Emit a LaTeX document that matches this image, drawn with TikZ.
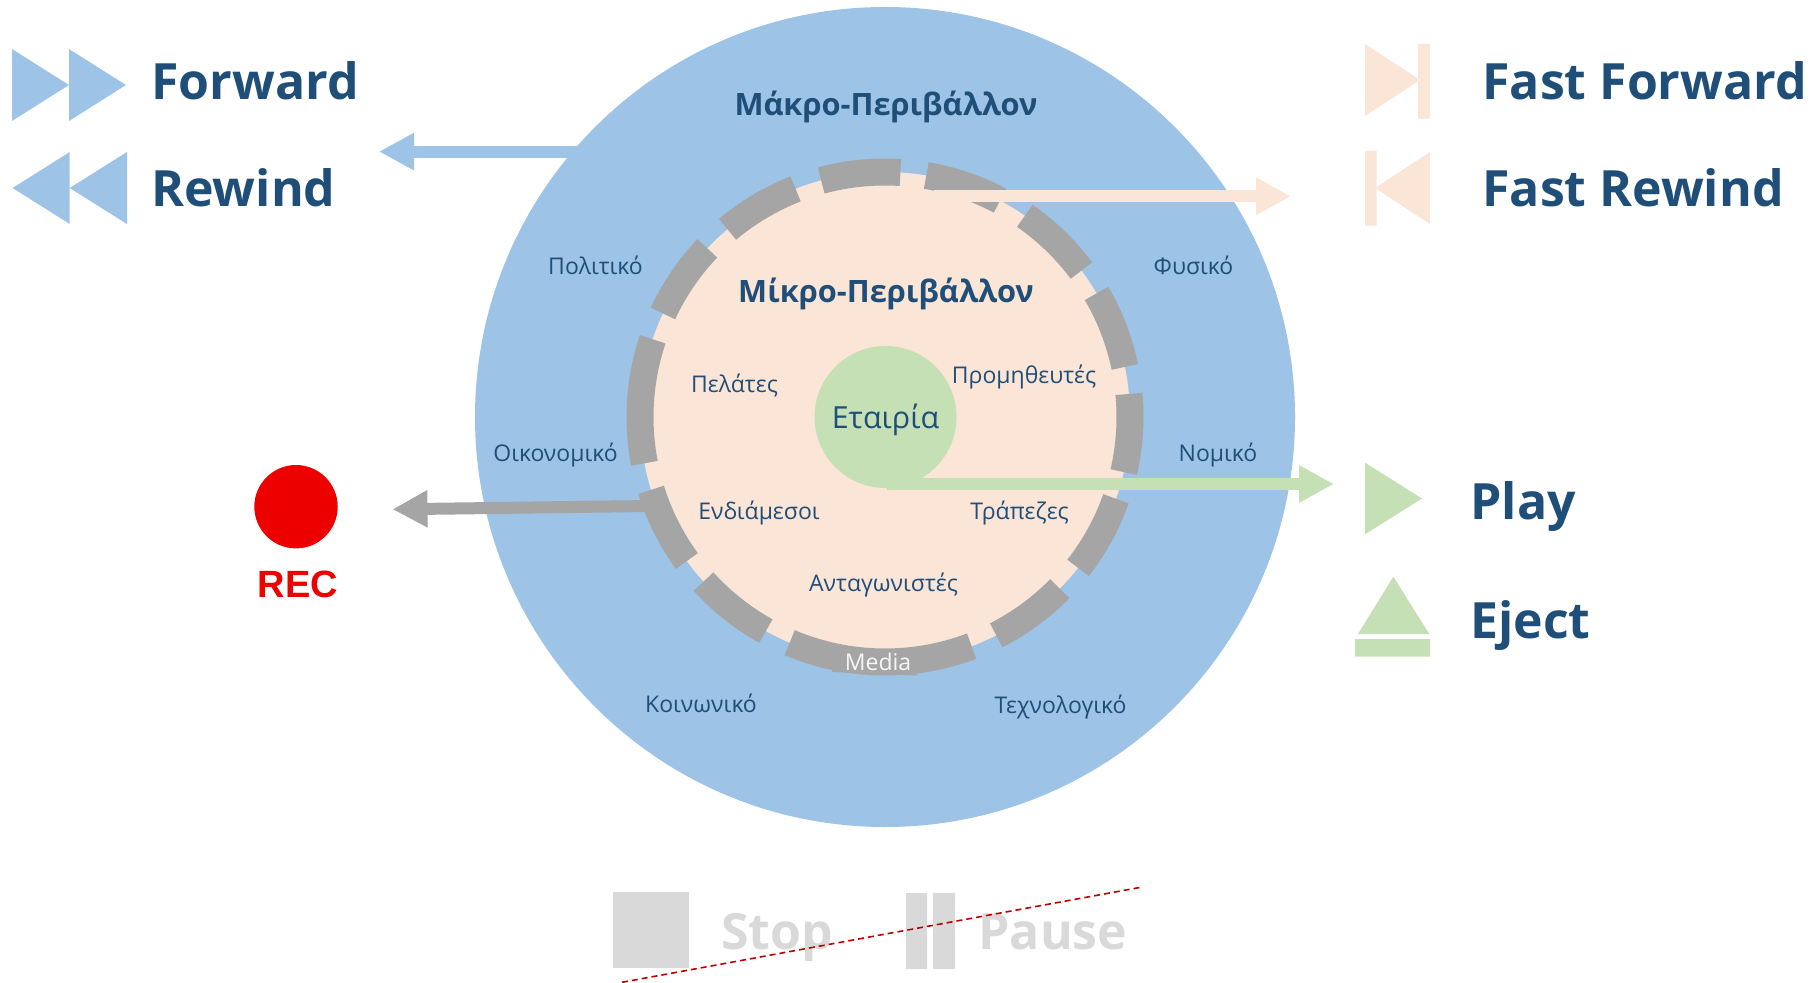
\documentclass[tikz,border=0pt]{standalone}
\usepackage{fontspec}
\setmainfont{Open Sans}
\newfontfamily\recfont{Liberation Sans}
\usetikzlibrary{arrows.meta,positioning,shapes}
\definecolor{macroblue}{HTML}{9DC3E6}
\definecolor{micropeach}{HTML}{FBE5D6}
\definecolor{firmgreen}{HTML}{C5E0B4}
\definecolor{ringgray}{HTML}{A5A5A5}
\definecolor{inkblue}{HTML}{1F4E79}
\definecolor{offgray}{HTML}{D9D9D9}
\definecolor{recred}{HTML}{EC0000}
\definecolor{slashred}{HTML}{C00000}
\tikzset{
disc/.style={circle,inner sep=0pt,outer sep=0pt,minimum size=#1},
ringdash/.style={ringgray,line width=13.5pt},
bigword/.style={anchor=base west,inner sep=0pt,text=inkblue,font=\bfseries\fontsize{25}{30}\selectfont},
offword/.style={bigword,text=offgray},
envtitle/.style={text=inkblue,inner sep=0pt,font=\bfseries\fontsize{15.4}{18}\selectfont},
envlabel/.style={text=inkblue,inner sep=0pt,font=\fontsize{11.5}{14}\selectfont},
blockarrow/.style={line width=6pt,-{Triangle[length=17.5pt,width=17.5pt]}},
}
\begin{document}
\begin{tikzpicture}[x=0.5pt,y=-0.5pt]
\useasboundingbox (0,0) rectangle (1818,983);
\node[disc=410pt,fill=macroblue] (macro) at (885,417) {};
\node[disc=245pt,fill=micropeach] (micro) at (885,417) {};
\node[disc=71pt,fill=firmgreen] (firm) at (885.5,417) {};
\node[text=inkblue,inner sep=0pt,font=\fontsize{15.2}{18}\selectfont] (firmlabel) at (885.5,420) {Εταιρία};
\foreach \a/\b in {-105.1/-86.4,-80.3/-62,-55.2/-36.7,-30.3/-11.8,-5.4/13,19.5/38,44.5/63,69.3/112.9,
119.1/137.8,144/162.7,169.1/198.5,205/223.5,230/248.6}
\draw[ringdash] (micro.center) ++(\a:245) arc[start angle=\a,end angle=\b,radius=245];
\fill[ringgray] (832,649)--(917,649)--(917,675.5)--(832,672)--cycle;
\node[text=white!90!ringgray,inner sep=0pt,font=\fontsize{11.5}{14}\selectfont] (media) at (878,661.5) {Media};
% arrows out of the rings
\coordinate (bluestart) at (580,151.6);
\coordinate (blueend) at (379,151.6);
\coordinate (peachstart) at (934,196.3);
\coordinate (peachend) at (1291,196.3);
\coordinate (greenstart) at (887,484);
\coordinate (greenend) at (1334,484);
\coordinate (graystart) at (650,506);
\coordinate (grayend) at (392.5,509.3);
\draw[blockarrow,macroblue] (bluestart) -- (blueend);
\draw[blockarrow,micropeach] (peachstart) -- (peachend);
\draw[blockarrow,firmgreen] (greenstart) -- (greenend);
\draw[blockarrow,ringgray] (graystart) -- (grayend);
% ring labels
\node[envtitle] (macrotitle) at (886,107) {Μάκρο-Περιβάλλον};
\node[envtitle] (microtitle) at (886,294) {Μίκρο-Περιβάλλον};
\node[envlabel] (politiko) at (595.5,265) {Πολιτικό};
\node[envlabel] (fysiko) at (1193.5,265) {Φυσικό};
\node[envlabel] (oikonomiko) at (555.5,455) {Οικονομικό};
\node[envlabel] (nomiko) at (1218,455) {Νομικό};
\node[envlabel] (koinoniko) at (701,703) {Κοινωνικό};
\node[envlabel] (techno) at (1060.5,707) {Τεχνολογικό};
\node[envlabel] (pelates) at (734.5,385.5) {Πελάτες};
\node[envlabel] (promith) at (1024,377) {Προμηθευτές};
\node[envlabel] (endiam) at (759,513) {Ενδιάμεσοι};
\node[envlabel] (trapezes) at (1019.5,513) {Τράπεζες};
\node[envlabel] (antag) at (883.5,585) {Ανταγωνιστές};
% buttons
\fill[macroblue] (12,49)--(69,85)--(12,121)--cycle (69,49)--(126,85)--(69,121)--cycle;
\fill[macroblue] (69.7,152)--(12.6,188)--(69.7,224)--cycle (127,152)--(69.7,188)--(127,224)--cycle;
\fill[micropeach] (1365,44)--(1420,80)--(1365,116)--cycle (1418,44) rectangle (1430,118.7);
\fill[micropeach] (1430,152)--(1375,188)--(1430,224)--cycle (1365,151) rectangle (1376.6,225.7);
\fill[firmgreen] (1365,462.7)--(1422,498.5)--(1365,534.3)--cycle;
\fill[firmgreen] (1393.3,576.7)--(1429.3,634)--(1358,634)--cycle (1355,639) rectangle (1430,656.7);
\node[disc=41.7pt,fill=recred] (rec) at (296,506.7) {};
\node[anchor=base,inner sep=0pt,text=recred,font=\recfont\bfseries\fontsize{19}{22}\selectfont] (reclabel) at (298,597.7) {REC};
\fill[offgray] (613,892) rectangle (689,967.7);
\fill[offgray] (906,893) rectangle (927,969) (933,893) rectangle (955,969);
\node[bigword] (forward) at (151,100) {Forward};
\node[bigword] (rewind) at (151,206.7) {Rewind};
\node[bigword] (fastforward) at (1482,100) {Fast Forward};
\node[bigword] (fastrewind) at (1482,206.7) {Fast Rewind};
\node[bigword] (play) at (1470,519) {Play};
\node[bigword] (eject) at (1470,638) {Eject};
\node[offword] (stop) at (721,949) {Stop};
\node[offword] (pause) at (978,949) {Pause};
\draw[slashred,densely dashed,line width=0.8pt] (622,982.3) -- (1140.7,887.3);
\end{tikzpicture}
\end{document}
